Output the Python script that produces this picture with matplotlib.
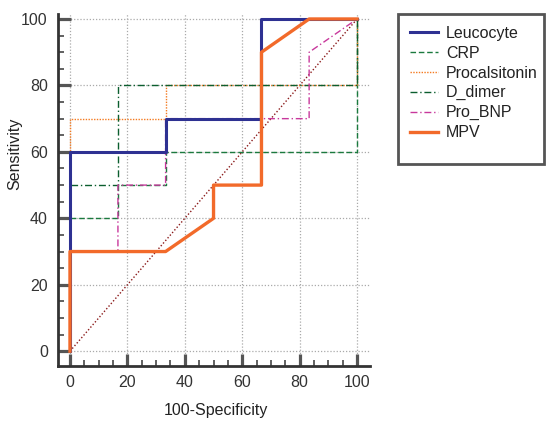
import matplotlib
matplotlib.use("Agg")
import matplotlib.pyplot as plt
from matplotlib.patches import Rectangle
from matplotlib.ticker import MultipleLocator

plt.rcParams['font.family'] = ['Liberation Sans', 'DejaVu Sans']

# ROC curve data (100-Specificity, Sensitivity)
leuco_x = [0, 0, 33.3, 33.3, 66.7, 66.7, 100]
leuco_y = [0, 60, 60, 70, 70, 100, 100]
crp_x = [0, 0, 16.7, 16.7, 33.3, 33.3, 100, 100]
crp_y = [0, 40, 40, 50, 50, 60, 60, 100]
pct_x = [0, 0, 33.3, 33.3, 100, 100]
pct_y = [0, 70, 70, 80, 80, 100]
dd_x = [0, 0, 16.7, 16.7, 100, 100]
dd_y = [0, 50, 50, 80, 80, 100]
bnp_x = [0, 0, 16.7, 16.7, 33.3, 33.3, 83.3, 83.3, 100]
bnp_y = [0, 30, 30, 50, 50, 70, 70, 90, 100]
mpv_x = [0, 0, 33.3, 50, 50, 66.7, 66.7, 83.3, 100]
mpv_y = [0, 30, 30, 40, 50, 50, 90, 100, 100]
ref_x = [0, 100]
ref_y = [0, 100]

labels = ["Leucocyte", "CRP", "Procalsitonin", "D_dimer", "Pro_BNP", "MPV"]
ticks = [0, 20, 40, 60, 80, 100]

W, H = 547, 426
fig = plt.figure(figsize=(W / 100, H / 100), dpi=100)
ax = fig.add_axes([57.5 / W, 1 - 365.5 / H, (370 - 57.5) / W, (365.5 - 14) / H])
ax.set_xlim(-4.35, 104.5)
ax.set_ylim(-4.3, 101.5)

ax.plot(ref_x, ref_y, color='#8B1A1A', lw=1.0, ls=(0, (1, 1.5)), zorder=2)
h_crp, = ax.plot(crp_x, crp_y, color='#1B7A3E', lw=1.0, ls=(0, (4, 2)), zorder=3)
h_pct, = ax.plot(pct_x, pct_y, color='#F47A20', lw=1.0, ls=(0, (1, 1)), zorder=3)
h_dd, = ax.plot(dd_x, dd_y, color='#0B5E2E', lw=1.0, ls=(0, (5, 2, 1, 2)), zorder=3)
h_bnp, = ax.plot(bnp_x, bnp_y, color='#C8389C', lw=1.0, ls=(0, (5, 2, 1, 2)), zorder=3)
h_leu, = ax.plot(leuco_x, leuco_y, color='#2E3192', lw=2.2, zorder=4)
h_mpv, = ax.plot(mpv_x, mpv_y, color='#F26A2A', lw=2.4, zorder=5)

for s in ['top', 'right']:
    ax.spines[s].set_visible(False)
for s in ['left', 'bottom']:
    ax.spines[s].set_linewidth(2.0)
    ax.spines[s].set_color('#333333')

ax.set_xticks(ticks)
ax.set_yticks(ticks)
ax.xaxis.set_minor_locator(MultipleLocator(5))
ax.yaxis.set_minor_locator(MultipleLocator(5))
ax.tick_params(which='major', direction='in', length=9, width=2.3, color='#555555',
               labelsize=11.5, labelcolor='#333333', pad=7)
ax.tick_params(which='minor', direction='in', length=4.0, width=1.3, color='#555555')
ax.grid(True, which='major', color='#aaaaaa', lw=0.9, ls=(0, (1, 1.5)))
ax.set_axisbelow(True)

ax.set_xlabel("100-Specificity", fontsize=11.5, color='#222222')
ax.set_ylabel("Sensitivity", fontsize=11.5, color='#222222')
ax.xaxis.set_label_coords((216 - 57.5) / 312.5, -(410 - 365.5) / 351.5)
ax.yaxis.set_label_coords(-(57.5 - 15) / 312.5, 1 - (154 - 14) / 351.5)
ax.xaxis.label.set_va('center')
ax.yaxis.label.set_va('center')

# legend box
fig.patches.append(Rectangle((398 / W, 1 - 164 / H), (544 - 398) / W, (164 - 14) / H,
                             transform=fig.transFigure, fill=False,
                             edgecolor='#555555', lw=2.0))
leg = fig.legend([h_leu, h_crp, h_pct, h_dd, h_bnp, h_mpv], labels,
                 loc='upper left', bbox_to_anchor=(398 / W, 1 - 14 / H),
                 frameon=False, fontsize=11.5, handlelength=1.75,
                 handletextpad=0.5, labelspacing=0.3, borderpad=0.75,
                 borderaxespad=0)
for t in leg.get_texts():
    t.set_color('#222222')

fig.savefig("out.png", dpi=100)
